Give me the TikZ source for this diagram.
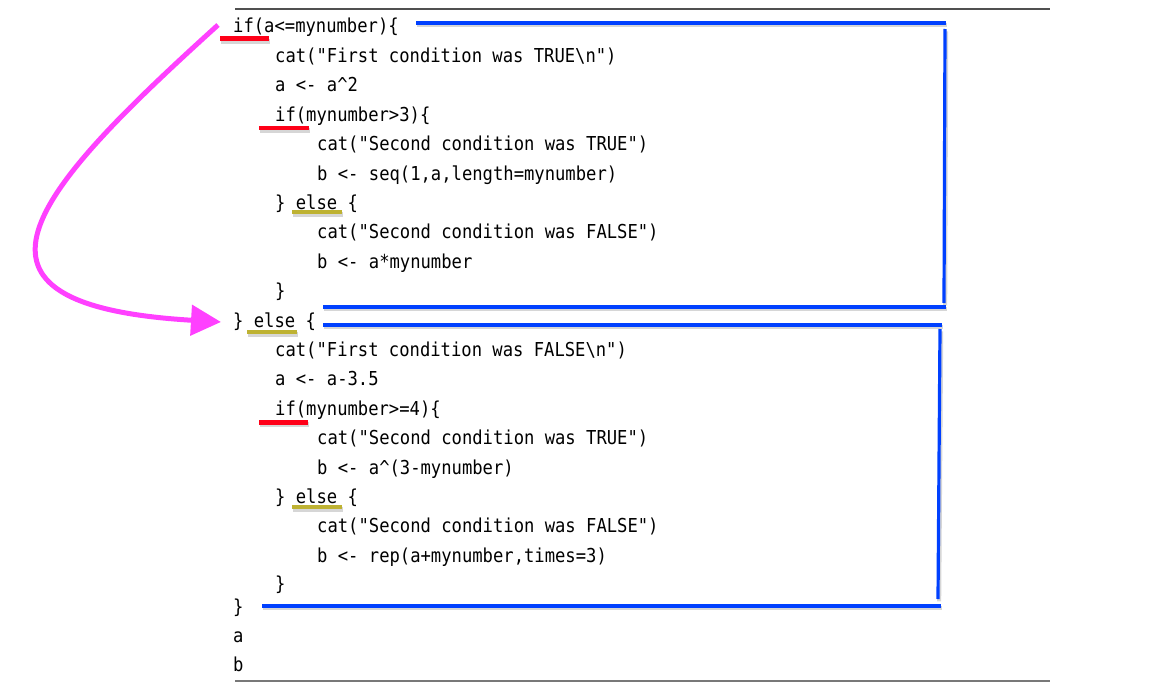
\documentclass[tikz,border=0pt]{standalone}
\usepackage{fontspec}
\newfontfamily\codefont[FakeStretch=0.895]{DejaVu Sans Mono}
\usetikzlibrary{arrows.meta}
\definecolor{bracketblue}{RGB}{0,64,255}
\definecolor{ifred}{RGB}{255,0,24}
\definecolor{elseolive}{RGB}{190,178,50}
\definecolor{jumpmagenta}{RGB}{255,64,255}
\definecolor{rulegray}{RGB}{80,80,80}
\definecolor{rulegraylight}{RGB}{120,120,120}
\begin{document}
\begin{tikzpicture}[x=1pt,y=-1pt,
  codeline/.style={inner sep=0pt, anchor=base west, text=black, font=\codefont\fontsize{19.2}{22}\selectfont},
  shadowed/.style={preaction={draw=black, opacity=0.16, line width=#1, transform canvas={shift={(1.2pt,-2.4pt)}}}},
  bracket/.style={draw=bracketblue, line width=3.2pt, shadowed=4pt},
  ifmark/.style={draw=ifred, line width=4.5pt, shadowed=5pt},
  elsemark/.style={draw=elseolive, line width=4.5pt, shadowed=5pt},
  toprule/.style={draw=rulegray, line width=1.4pt},
  botrule/.style={draw=rulegraylight, line width=2pt},
  jump/.style={draw=jumpmagenta, line width=5pt, -{Triangle[length=30pt,width=30pt]}}
]
\useasboundingbox (0,0) rectangle (1152,685);

% rules
\coordinate (rtA) at (235,9);   \coordinate (rtB) at (1050,9);
\coordinate (rbA) at (235,681); \coordinate (rbB) at (1050,681);
\draw[toprule] (rtA) -- (rtB);
\draw[botrule] (rbA) -- (rbB);

% code lines
\node[codeline] (l1)  at (233,33)    {if(a<=mynumber)\{};
\node[codeline] (l2)  at (275,62.4)  {cat("First condition was TRUE\textbackslash n")};
\node[codeline] (l3)  at (275,91.8)  {a <- a\textasciicircum 2};
\node[codeline] (l4)  at (275,121.2) {if(mynumber>3)\{};
\node[codeline] (l5)  at (317,150.6) {cat("Second condition was TRUE")};
\node[codeline] (l6)  at (317,180)   {b <- seq(1,a,length=mynumber)};
\node[codeline] (l7)  at (275,209.4) {\} else \{};
\node[codeline] (l8)  at (317,238.8) {cat("Second condition was FALSE")};
\node[codeline] (l9)  at (317,268.2) {b <- a*mynumber};
\node[codeline] (l10) at (275,297.6) {\}};
\node[codeline] (l11) at (233,327)   {\} else \{};
\node[codeline] (l12) at (275,356.4) {cat("First condition was FALSE\textbackslash n")};
\node[codeline] (l13) at (275,385.8) {a <- a-3.5};
\node[codeline] (l14) at (275,415.2) {if(mynumber>=4)\{};
\node[codeline] (l15) at (317,444.6) {cat("Second condition was TRUE")};
\node[codeline] (l16) at (317,474)   {b <- a\textasciicircum(3-mynumber)};
\node[codeline] (l17) at (275,503.4) {\} else \{};
\node[codeline] (l18) at (317,532.8) {cat("Second condition was FALSE")};
\node[codeline] (l19) at (317,562.2) {b <- rep(a+mynumber,times=3)};
\node[codeline] (l20) at (275,590)   {\}};
\node[codeline] (l21) at (233,613)   {\}};
\node[codeline] (l22) at (233,642)   {a};
\node[codeline] (l23) at (233,671)   {b};

% underline marks
\draw[ifmark] (220,38.7) -- (269,38.7);
\draw[ifmark] (259,128) -- (309,128);
\draw[ifmark] (259,422.5) -- (308,422.5);
\draw[elsemark] (292,212) -- (342,212);
\draw[elsemark] (247,332) -- (297,332);
\draw[elsemark] (292,507) -- (342,507);

% blue brackets
\coordinate (b1a) at (416,23);  \coordinate (b1b) at (946,23);
\coordinate (b1c) at (945,29);  \coordinate (b1d) at (944,303);
\coordinate (b1e) at (323,307); \coordinate (b1f) at (946,307);
\draw[bracket] (b1a) -- (b1b);
\draw[bracket] (b1c) -- (b1d);
\draw[bracket] (b1e) -- (b1f);
\coordinate (b2a) at (323,325); \coordinate (b2b) at (942,325);
\coordinate (b2c) at (940,329); \coordinate (b2d) at (938,599);
\coordinate (b2e) at (262,606); \coordinate (b2f) at (941,606);
\draw[bracket] (b2a) -- (b2b);
\draw[bracket] (b2c) -- (b2d);
\draw[bracket] (b2e) -- (b2f);

% magenta jump arrow
\coordinate (jumpfrom) at (218,25);
\coordinate (jumpto) at (221,322);
\draw[jump] (jumpfrom) .. controls (30,195) and (-65,305) .. (jumpto);
\end{tikzpicture}
\end{document}
